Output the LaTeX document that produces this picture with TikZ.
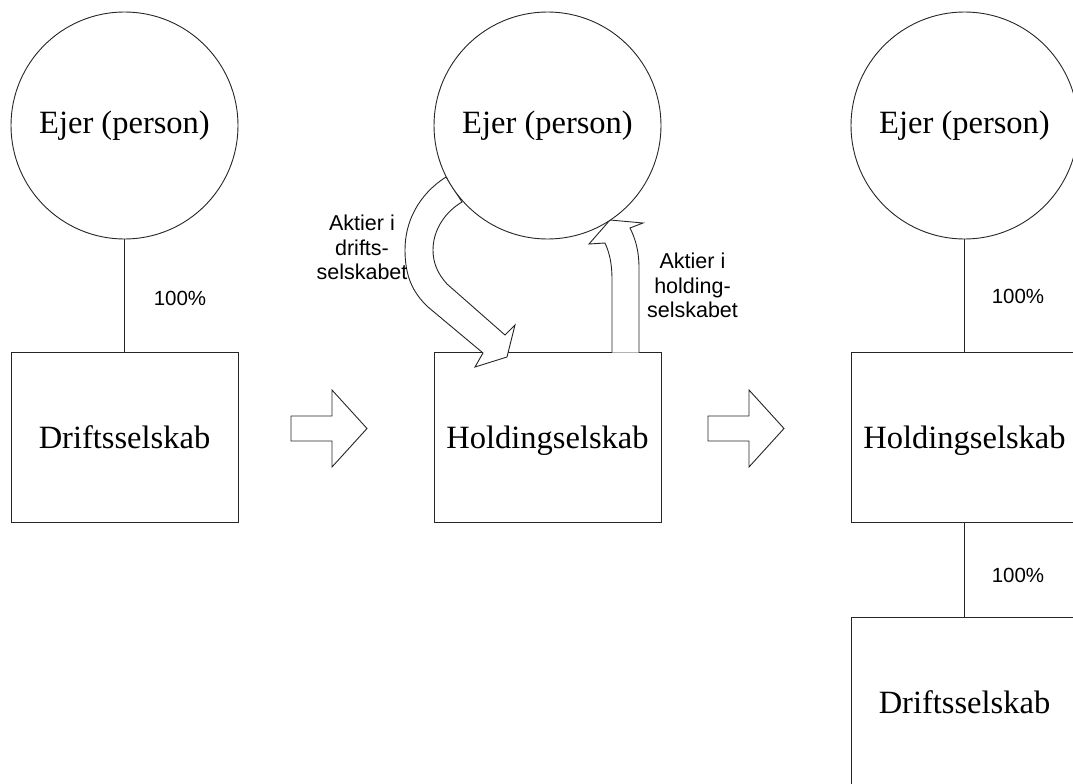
\documentclass[tikz,border=0pt]{standalone}
\usepackage{fontspec}
\setmainfont{Liberation Serif}
\newfontfamily\labelfont{Liberation Sans}
\begin{document}
\begin{tikzpicture}[x=1pt,y=-1pt,
  outline/.style={draw=black!85, line width=0.9pt, line join=miter},
  owner/.style={outline, circle, fill=white, minimum size=227pt, inner sep=0pt,
    font=\fontsize{32.5}{38}\selectfont},
  company/.style={outline, rectangle, fill=white, minimum width=227pt,
    minimum height=170pt, inner sep=0pt, text height=22pt, text depth=0pt,
    font=\fontsize{32.5}{38}\selectfont},
  share/.style={font=\labelfont\fontsize{20.5}{24}\selectfont},
  note/.style={font=\labelfont\fontsize{21.5}{24.5}\selectfont, align=center},
  blockarrow/.style={outline, fill=white},
  link/.style={outline},
]
\useasboundingbox (0,0) rectangle (1073,784);
\clip (0,0) rectangle (1073,784);

% companies
\node[company] (d1) at (124.5,437) {Driftsselskab};
\node[company] (h2) at (547.5,437) {Holdingselskab};
\node[company] (h3) at (964.5,437) {Holdingselskab};
\node[company] (d3) at (964.5,702) {Driftsselskab};

% curved share transfers between owner and holding company
\draw[blockarrow] (446,177) .. controls (418,195) and (405,222) .. (405,250)
  .. controls (405,275) and (412,292) .. (428,307) -- (483,353)
  -- (475,367) -- (507,357) -- (515,325) -- (505,335) -- (447,284)
  .. controls (437,273) and (433,262) .. (433,250)
  .. controls (433,230) and (445,212) .. (462,202) -- cycle;
\draw[blockarrow] (612,352.5) -- (612,280) .. controls (612,262) and (609,252) .. (605,243)
  -- (589,244) -- (610,220) -- (643,223) -- (630,228)
  .. controls (636,240) and (639,252) .. (639,268) -- (639,352.5);

% step arrows between the stages
\draw[blockarrow] (291,416) -- (332,416) -- (332,390) -- (367,428.5)
  -- (332,467) -- (332,441) -- (291,441) -- cycle;
\draw[blockarrow] (708,416) -- (749,416) -- (749,390) -- (784,428.5)
  -- (749,467) -- (749,441) -- (708,441) -- cycle;

% owners
\node[owner] (e1) at (124.5,125.5) {Ejer (person)};
\node[owner] (e2) at (547.5,125.5) {Ejer (person)};
\node[owner] (e3) at (964.5,125.5) {Ejer (person)};

% ownership links
\draw[link] (e1) -- (d1);
\draw[link] (e3) -- (h3);
\draw[link] (h3) -- (d3);
\node[share] (p1) at (180,298) {100\%};
\node[share] (p2) at (1018,296) {100\%};
\node[share] (p3) at (1018,575) {100\%};

% transfer labels
\node[note] (n1) at (362,247.5) {Aktier i\\drifts-\\selskabet};
\node[note] (n2) at (692.5,285.5) {Aktier i\\holding-\\selskabet};
\end{tikzpicture}
\end{document}
